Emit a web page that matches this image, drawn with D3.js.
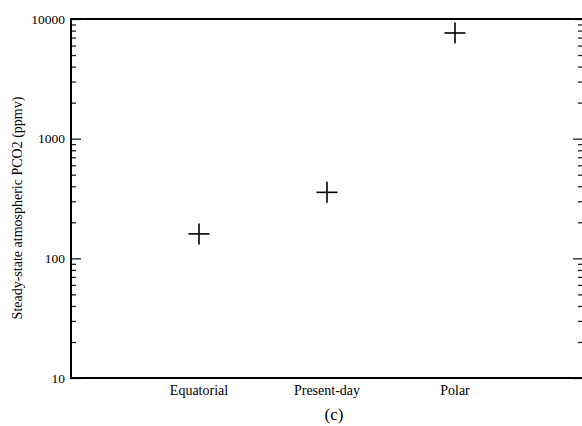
<!DOCTYPE html>
<html>
<head>
<meta charset="utf-8">
<script src="https://cdn.jsdelivr.net/npm/d3@7"></script>
<style>
  body { margin: 0; background: #fff; overflow: hidden; }
  svg { display: block; }
  text { font-family: "Liberation Serif", "Times New Roman", Times, serif; fill: #000; }
</style>
</head>
<body>
<div id="chart"></div>
<script>
// data
var categories = ["Equatorial", "Present-day", "Polar"];
var pco2 = [160, 356, 7640];
var yTickLabels = ["10", "100", "1000", "10000"];

var width = 582, height = 426;
var margin = { left: 71, top: 19, right: -1, bottom: 48 };

var svg = d3.select("#chart").append("svg")
    .attr("width", width)
    .attr("height", height);

var x = d3.scaleLinear()
    .domain([0, categories.length + 1])
    .range([margin.left, width - margin.right]);

var y = d3.scaleLog()
    .domain([10, 10000])
    .range([height - margin.bottom, margin.top]);

// minor tick values 2..9 in each decade
var minor = [];
[10, 100, 1000].forEach(function (d) {
    for (var k = 2; k < 10; k++) minor.push(d * k);
});

// left axis, ticks pointing inward
var left = svg.append("g").attr("transform", "translate(" + margin.left + ",0)");
left.call(d3.axisRight(y).tickValues(yTickLabels.map(Number)).tickSize(10).tickFormat(""));
left.append("g").call(d3.axisRight(y).tickValues(minor).tickSize(5).tickFormat(""));
left.selectAll("text").remove();
left.selectAll(".domain").remove();

// right axis, ticks pointing inward
var right = svg.append("g").attr("transform", "translate(" + (width - margin.right) + ",0)");
right.call(d3.axisLeft(y).tickValues(yTickLabels.map(Number)).tickSize(10).tickFormat(""));
right.append("g").call(d3.axisLeft(y).tickValues(minor).tickSize(5).tickFormat(""));
right.selectAll("text").remove();
right.selectAll(".domain").remove();

svg.selectAll(".tick line").attr("stroke", "#222").attr("stroke-width", 1.3);

// tick labels
svg.selectAll(".ylab")
    .data(yTickLabels)
    .enter().append("text")
    .attr("class", "ylab")
    .attr("x", margin.left - 6)
    .attr("y", function (d) { return y(+d) + 4.5; })
    .attr("text-anchor", "end")
    .style("font-size", "13.5px")
    .text(function (d) { return d; });

// frame
svg.append("rect")
    .attr("x", margin.left)
    .attr("y", margin.top)
    .attr("width", x.range()[1] - margin.left)
    .attr("height", y.range()[0] - margin.top)
    .attr("fill", "none")
    .attr("stroke", "#000")
    .attr("stroke-width", 2);

// category labels
svg.selectAll(".xlab")
    .data(categories)
    .enter().append("text")
    .attr("class", "xlab")
    .attr("x", function (d, i) { return x(i + 1); })
    .attr("y", 395)
    .attr("text-anchor", "middle")
    .style("font-size", "14px")
    .text(function (d) { return d; });

// crosses
var arm = 10.5;
var pts = svg.selectAll(".pt")
    .data(pco2)
    .enter().append("g")
    .attr("class", "pt")
    .attr("transform", function (d, i) { return "translate(" + x(i + 1) + "," + y(d) + ")"; });
pts.append("line").attr("x1", -arm).attr("x2", arm).attr("y1", 0).attr("y2", 0);
pts.append("line").attr("x1", 0).attr("x2", 0).attr("y1", -arm).attr("y2", arm);
pts.selectAll("line").attr("stroke", "#000").attr("stroke-width", 1.6);

// y title
svg.append("text")
    .attr("transform", "translate(22,208) rotate(-90)")
    .attr("text-anchor", "middle")
    .style("font-size", "14px")
    .text("Steady-state atmospheric PCO2 (ppmv)");

// panel label
svg.append("text")
    .attr("x", 334)
    .attr("y", 420)
    .attr("text-anchor", "middle")
    .style("font-size", "17px")
    .text("(c)");
</script>
</body>
</html>
